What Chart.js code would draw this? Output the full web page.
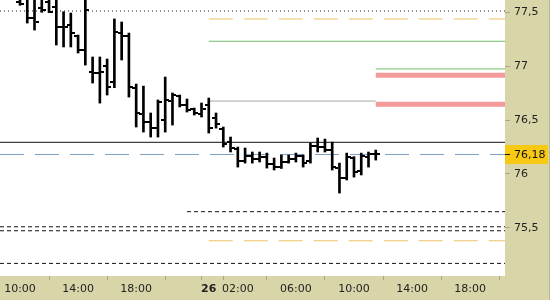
<!DOCTYPE html>
<html>
<head>
<meta charset="utf-8">
<script src="https://cdn.jsdelivr.net/npm/chart.js@4.4.1/dist/chart.umd.min.js"></script>
<style>
html, body { margin: 0; padding: 0; background: #d8d5a9; }
#wrap { width: 550px; height: 300px; }
</style>
</head>
<body>
<div id="wrap"><canvas id="myChart" width="550" height="300"></canvas></div>
<script>
// half-hour bars, bar 0 = 10:00 on the 25th
const opens  = [77.60, 77.62, 77.447, 77.54, 77.60, 77.55, 77.363, 77.382, 77.28, 77.15,
                76.95, 76.94, 77.00, 76.85, 77.31, 77.28, 76.80, 76.56, 76.48, 76.43,
                76.50, 76.68, 76.72, 76.64, 76.60, 76.56, 76.64, 76.52, 76.42, 76.30,
                76.23, 76.12, 76.17, 76.14, 76.16, 76.09, 76.06, 76.11, 76.14, 76.17,
                76.12, 76.26, 76.25, 76.22, 76.05, 75.96, 76.15, 76.03, 76.16, 76.18];
const highs  = [77.68, 77.66, 77.65, 77.66, 77.66, 77.63, 77.505, 77.493, 77.289, 77.64,
                77.085, 77.085, 77.066, 77.438, 77.41, 77.307, 76.834, 76.815, 76.565, 76.686,
                76.899, 76.751, 76.732, 76.695, 76.611, 76.658, 76.704, 76.565, 76.435, 76.342,
                76.249, 76.24, 76.203, 76.203, 76.193, 76.147, 76.175, 76.175, 76.193, 76.175,
                76.286, 76.333, 76.323, 76.295, 76.10, 76.193, 76.16, 76.193, 76.203, 76.221];
const lows   = [77.565, 77.40, 77.335, 77.50, 77.497, 77.196, 77.178, 77.178, 77.122, 77.01,
                76.843, 76.657, 76.732, 76.80, 77.057, 76.713, 76.435, 76.388, 76.342, 76.342,
                76.388, 76.453, 76.621, 76.574, 76.546, 76.528, 76.379, 76.425, 76.249, 76.203,
                76.063, 76.10, 76.10, 76.11, 76.054, 76.036, 76.05, 76.10, 76.11, 76.063,
                76.10, 76.203, 76.203, 76.036, 75.822, 75.943, 75.97, 75.99, 76.063, 76.128];
const closes = [77.58, 77.445, 77.41, 77.52, 77.505, 77.363, 77.36, 77.308, 77.15, 77.52,
                76.94, 76.95, 76.806, 77.317, 77.28, 76.806, 76.565, 76.481, 76.425, 76.667,
                76.686, 76.732, 76.64, 76.593, 76.565, 76.60, 76.425, 76.46, 76.28, 76.24,
                76.12, 76.17, 76.14, 76.16, 76.09, 76.06, 76.11, 76.14, 76.17, 76.10,
                76.26, 76.25, 76.22, 76.06, 75.96, 76.16, 76.02, 76.17, 76.18, 76.18];

// time axis: bar index of each tick and its text
const tickBars   = [0, 8, 16, 24, 26, 30, 38, 46, 54, 62];
const tickLabels = ['10:00', '14:00', '18:00', '', '26', '02:00', '06:00', '10:00', '14:00', '18:00'];
const priceTicks = [75.5, 76, 76.5, 77, 77.5];

// horizontal levels: price, first bar, last bar (null = edge of chart)
const levelValues = [77.512, 77.438, 77.231, 76.974, 76.915, 76.676, 76.647, 76.293, 76.18, 75.649, 75.509, 75.472, 75.379, 75.169];
const levelFrom   = [null,   26,     26,     49,     49,     26,     49,     null,   null,  23,     null,   null,   26,     null];
const levelTo     = [null,   null,   null,   null,   null,   49,     null,   null,   null,  null,   null,   null,   null,   null];

const levelStyles = [
    { color: '#222', width: 1, dash: [1, 3] },
    { color: '#ebc264', width: 1, dash: [24, 11] },
    { color: '#6cbf6c', width: 1, dash: [] },
    { color: '#6cbf6c', width: 1, dash: [] },
    { color: '#f49a9a', width: 5, dash: [] },
    { color: '#a8a8a8', width: 1, dash: [] },
    { color: '#f49a9a', width: 5, dash: [] },
    { color: '#111', width: 1, dash: [] },
    { color: '#7f9fc2', width: 1, dash: [24, 11] },
    { color: '#111', width: 1, dash: [4, 3] },
    { color: '#111', width: 1, dash: [4, 3] },
    { color: '#111', width: 1, dash: [4, 3] },
    { color: '#ebc264', width: 1, dash: [24, 11] },
    { color: '#111', width: 1, dash: [4, 3] }
];

const xMin = -2.755, xMax = 66.8;
const yMin = 75.052, yMax = 77.614;
const font = { family: 'DejaVu Sans', size: 11 };

const levelSets = levelValues.map((v, i) => ({
    type: 'line',
    data: [{ x: levelFrom[i] === null ? xMin : levelFrom[i], y: v },
           { x: levelTo[i] === null ? xMax : levelTo[i], y: v }],
    borderColor: levelStyles[i].color,
    borderWidth: levelStyles[i].width,
    borderDash: levelStyles[i].dash,
    pointRadius: 0,
    fill: false,
    order: 2
}));

// paint khaki frame and white plot area
const backdrop = {
    id: 'backdrop',
    beforeDraw(chart) {
        const { ctx, chartArea: a } = chart;
        ctx.save();
        ctx.fillStyle = '#d8d5a9';
        ctx.fillRect(0, 0, chart.width, chart.height);
        ctx.fillStyle = '#fff';
        ctx.fillRect(a.left, a.top, a.right - a.left, a.bottom - a.top);
        ctx.fillStyle = '#b9b68c';
        ctx.fillRect(chart.width - 1, 0, 1, chart.height);
        ctx.restore();
    }
};

// open (left) and close (right) ticks of each bar
const ohlcTicks = {
    id: 'ohlcTicks',
    afterDatasetsDraw(chart) {
        const { ctx, chartArea: a, scales: { x, y } } = chart;
        ctx.save();
        ctx.beginPath();
        ctx.rect(a.left, a.top, a.right - a.left, a.bottom - a.top);
        ctx.clip();
        ctx.fillStyle = '#000';
        opens.forEach((o, i) => {
            const px = Math.round(x.getPixelForValue(i));
            ctx.fillRect(px - 4, Math.round(y.getPixelForValue(o)) - 1, 3, 2);
            ctx.fillRect(px + 1, Math.round(y.getPixelForValue(closes[i])) - 1, 3, 2);
        });
        ctx.restore();
    }
};

// last price marker on the right axis
const lastPrice = {
    id: 'lastPrice',
    afterDraw(chart) {
        const { ctx, chartArea: a, scales: { y } } = chart;
        const last = closes[closes.length - 1];
        const py = Math.round(y.getPixelForValue(last));
        ctx.save();
        ctx.fillStyle = '#f7c912';
        ctx.fillRect(a.right, py - 9, 43, 19);
        ctx.fillStyle = '#111';
        ctx.fillRect(a.right, py, 5, 1);
        ctx.font = '11px "DejaVu Sans"';
        ctx.textBaseline = 'middle';
        ctx.fillText(last.toFixed(2).replace('.', ','), a.right + 9, py + 1);
        ctx.restore();
    }
};

const canvas = document.getElementById('myChart');
const chart = new Chart(canvas.getContext('2d'), {
    data: {
        datasets: [{
            type: 'bar',
            data: lows.map((l, i) => ({ x: i, y: [l, highs[i]] })),
            backgroundColor: '#000',
            borderWidth: 0,
            barThickness: 2,
            order: 1
        }, ...levelSets]
    },
    options: {
        responsive: false,
        animation: false,
        layout: { padding: 0 },
        plugins: {
            legend: { display: false },
            tooltip: { enabled: false }
        },
        scales: {
            x: {
                type: 'linear',
                min: xMin,
                max: xMax,
                offset: false,
                border: { display: false },
                grid: { drawOnChartArea: false, tickLength: 4, color: '#a8a58a' },
                afterBuildTicks: s => { s.ticks = tickBars.map(v => ({ value: v })); },
                afterFit: s => { s.height = 24; s.paddingLeft = 0; s.paddingRight = 0; },
                ticks: {
                    autoSkip: false,
                    maxRotation: 0,
                    padding: 3,
                    color: '#222',
                    font: c => ({ family: 'DejaVu Sans', size: 11, weight: c.tick && c.tick.label === '26' ? 'bold' : 'normal' }),
                    callback: v => tickLabels[tickBars.indexOf(v)]
                }
            },
            y: {
                type: 'linear',
                position: 'right',
                min: yMin,
                max: yMax,
                border: { display: false },
                grid: { drawOnChartArea: false, tickLength: 5, color: '#a8a58a' },
                afterBuildTicks: s => { s.ticks = priceTicks.map(v => ({ value: v })); },
                afterFit: s => { s.width = 45; s.paddingTop = 0; s.paddingBottom = 0; },
                ticks: {
                    padding: 4,
                    color: '#222',
                    font: font,
                    callback: v => String(v).replace('.', ',')
                }
            }
        }
    },
    plugins: [backdrop, ohlcTicks, lastPrice]
});
</script>
</body>
</html>
